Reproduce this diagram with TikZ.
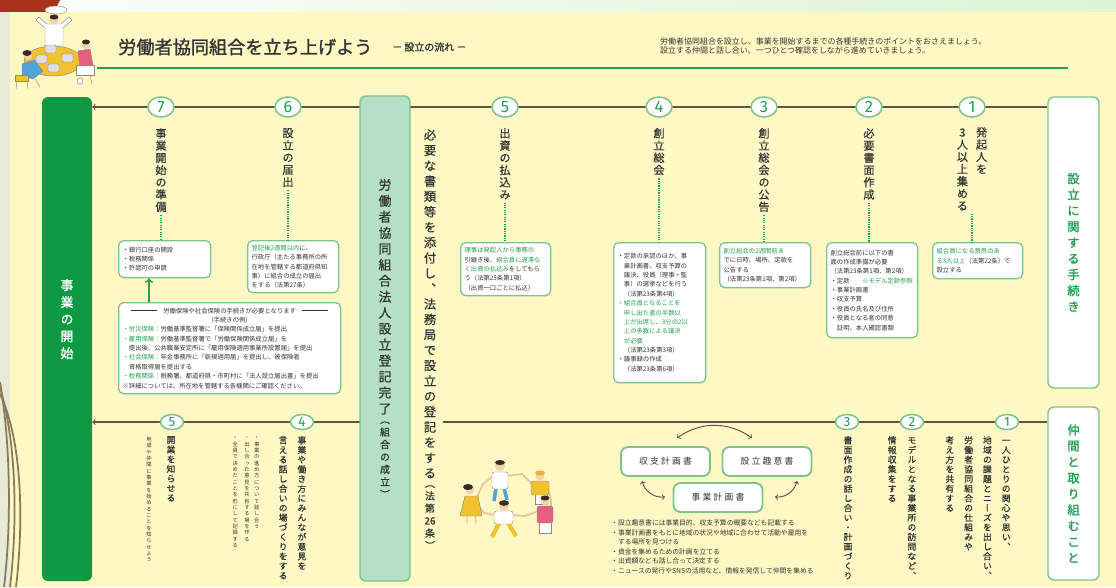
\documentclass[tikz,border=0pt]{standalone}
\usepackage{fontspec}
\setmainfont{Noto Sans CJK JP}
\newfontfamily\tatefont{Noto Sans CJK JP}[RawFeature=+vert]
\newfontfamily\tatemid{Noto Sans CJK JP}[RawFeature=+vert,FakeBold=0.7]
\newfontfamily\tatebold{Noto Sans CJK JP}[RawFeature=+vert,FakeBold=1.5]
\newfontfamily\titlefont{Noto Sans CJK JP}[FakeBold=1.5]
\newfontfamily\planfont{Noto Sans CJK JP}[LetterSpace=25]
\newfontfamily\numfont{Fira Sans}
\usetikzlibrary{shapes.geometric}
\setlength\parindent{0pt}

\newlength\px
\setlength\px{0.3mm}

\definecolor{page}{HTML}{FFF8C4}
\definecolor{edge}{HTML}{E6EAD6}
\definecolor{brick}{HTML}{A8321C}
\definecolor{leaf}{HTML}{0F9945}
\definecolor{mint}{HTML}{B5DFC6}
\definecolor{rim}{HTML}{7CC48A}
\definecolor{sprout}{HTML}{23A052}
\definecolor{ink}{HTML}{353535}
\definecolor{wire}{HTML}{5C5446}
\definecolor{skin}{HTML}{F2D3B0}
\definecolor{hair}{HTML}{3A2A20}
\definecolor{sun}{HTML}{F2C12E}
\definecolor{sky}{HTML}{4FA3D9}
\definecolor{rose}{HTML}{E5607F}
\definecolor{outline}{HTML}{8A8A8A}
\definecolor{arcline}{HTML}{8A7A5A}

\makeatletter
% a column of upright characters, read top to bottom
\newcommand\tate[2][1.2]{\vtop{\baselineskip=#1em\lineskiplimit=-\maxdimen\lineskip=0pt\relax
  \@tfor\tate@c:=#2\do{\hbox to 1em{\hss\tate@c\hss}}}}
% a column whose bracketed tail is set smaller
\newcommand\tatetail[3]{\vtop{\offinterlineskip
  \hbox to 1em{\hss\tate[#1]{#2}\hss}\kern6pt
  \hbox to 1em{\hss\fontsize{8.5}{8.5}\selectfont\tate[1.25]{#3}\hss}}}
\makeatother

\tikzset{
  wire/.style={draw=wire, line width=0.9pt},
  num/.style={ellipse, draw=rim, line width=1.3pt, fill=white, inner sep=0pt,
    minimum width=26\px, minimum height=20\px, text=sprout,
    font=\numfont\fontsize{14}{14}\selectfont},
  numlow/.style={num, minimum width=23\px, minimum height=15\px,
    font=\numfont\fontsize{11.5}{11.5}\selectfont},
  steptitle/.style={anchor=north, inner sep=0pt, text=ink,
    font=\tatemid\fontsize{9.5}{9.5}\selectfont},
  lowtitle/.style={anchor=north, inner sep=0pt, text=ink,
    font=\tatemid\fontsize{7.5}{7.5}\selectfont},
  lownote/.style={anchor=north, inner sep=0pt, text=ink,
    font=\tatefont\fontsize{4.5}{4.5}\selectfont},
  memo/.style={draw=rim, line width=1.1pt, fill=white, rounded corners=5\px,
    anchor=north west, inner sep=4\px, align=left, text=ink,
    font=\fontsize{5.4}{8}\selectfont},
  guide/.style={draw=sprout, densely dotted, line width=1pt},
  sidebox/.style={draw=rim, line width=1.2pt, fill=white, rounded corners=6\px,
    minimum width=51\px, inner sep=0pt, text=sprout,
    font=\tatebold\fontsize{10.5}{10.5}\selectfont},
  plan/.style={draw=rim, line width=1.6pt, fill=white, rounded corners=7\px,
    minimum width=89\px, minimum height=29\px, text=ink,
    font=\planfont\fontsize{7.5}{7.5}\selectfont},
  roundtrip/.style={draw=wire, line width=0.8pt, <->},
  kid/.style={draw=outline, line width=0.4pt},
  limb/.style={draw=skin!80!brown, line width=1.4pt, line cap=round}
}

\begin{document}
\begin{tikzpicture}[x=0.3mm, y=-0.3mm]
\useasboundingbox (0,0) rectangle (1116,587);
%page
\fill[edge] (0,0) rectangle (1116,587);
\shade[left color=white!90!edge, right color=edge!85!green!60!white] (0,0) rectangle (1116,12);
\fill[brick] (0,0) -- (60,0) -- (54,12) -- (0,12) -- cycle;
\fill[page] (10,12) rectangle (1116,587);
\foreach \d in {0,6,12}
  \draw[arcline, line width=1.5pt] (0,382+\d) .. controls (10+\d,440) and (12+\d,520) .. (4+\d,587);

%heading
\draw[sprout, line width=1.3pt] (97,68) -- (1068,68);
\node[anchor=west, inner sep=0pt, text=ink, font=\titlefont\fontsize{15.5}{15.5}\selectfont]
  (title) at (118,47) {労働者協同組合を立ち上げよう};
\node[anchor=west, inner sep=0pt, text=ink, font=\titlefont\fontsize{8.5}{8.5}\selectfont]
  (subtitle) at (392,47) {－\ 設立の流れ\ －};
\node[anchor=north west, inner sep=0pt, align=left, text=ink, font=\fontsize{6.8}{8.3}\selectfont]
  (lead) at (660,37) {労働者協同組合を設立し、事業を開始するまでの各種手続きのポイントをおさえましょう。\\
  設立する仲間と話し合い、一つひとつ確認をしながら進めていきましょう。};

%people at the table
\draw[kid, fill=white] (56,10) ellipse ({11\px} and {4\px});
\draw[kid] (55,14) -- (54,16);
\draw[kid, fill=white] (45,28) -- (36,20) -- (39,17) -- (47,24) -- (61,24) -- (69,17) -- (72,20) -- (63,28) -- (63,46) -- (45,46) -- cycle;
\fill[skin] (54,20) circle (4.5\px);
\fill[hair] (54,17) ellipse ({4.5\px} and {2.5\px});
\draw[kid, fill=sun] (53,61) ellipse ({29\px} and {15\px});
\foreach \lx/\ly in {45/45,36/55,62/54,48/64}
  \draw[kid, fill=gray!25, rounded corners=1pt] (\lx,\ly) rectangle ++(11,8);
\draw[kid, fill=sky] (22,64) -- (34,60) -- (43,71) -- (33,79) -- (22,76) -- cycle;
\fill[skin] (28,56) circle (4\px);
\fill[hair] (27,53) ellipse ({4.5\px} and {3\px});
\draw[kid, fill=sun] (15,75) rectangle (28,81);
\draw[kid] (17,81) -- (16,89) (27,81) -- (28,89) (35,79) -- (40,87);
\draw[kid, fill=rose] (78,51) -- (90,49) -- (93,65) -- (80,67) -- cycle;
\fill[skin] (86,45) circle (4\px);
\fill[hair] (86,42) ellipse ({4\px} and {2.5\px});
\draw[kid, fill=white] (76,65) rectangle (94,75);
\draw[kid, fill=white] (80,81) circle (3\px);
\draw[kid] (80,75) -- (80,78) (90,75) -- (92,85);

%side bars
\node[fill=leaf, rounded corners=6\px, minimum width=50\px, minimum height=484\px, inner sep=0pt]
  (kaishi) at (67,339) {};
\node[anchor=north, inner sep=0pt, text=white, font=\tatebold\fontsize{11}{11}\selectfont]
  (kaishilab) at (67,279) {\tate[1.32]{事業の開始}};
\node[sidebox, minimum height=291\px] (tetsuzuki) at (1073.5,242.5) {\tate[1.3]{設立に関する手続き}};
\node[sidebox, minimum height=173\px] (nakama) at (1073.5,493.5) {\tate[1.3]{仲間と取り組むこと}};

%flow lines
\coordinate (row1) at (0,107);
\coordinate (row2) at (0,422);
\coordinate (gap) at (443,422);
\coordinate (under) at (385,422);
\draw[wire, ->] (tetsuzuki.west |- row1) -- (kaishi.east |- row1);
\draw[wire] (nakama.west |- row2) -- (gap);
\draw[wire, ->] (under) -- (kaishi.east |- row2);

%registration
\node[fill=mint, draw=rim, line width=1.2pt, rounded corners=6\px, minimum width=50\px,
  minimum height=485\px, inner sep=0pt, text=ink, font=\tatemid\fontsize{11}{11}\selectfont]
  (seiritsu) at (385,338.5) {\tatetail{1.24}{労働者協同組合法人設立登記完了}{（組合の成立）}};
\node[anchor=north, inner sep=0pt, text=ink, font=\tatemid\fontsize{10.5}{10.5}\selectfont]
  (touki) at (430,129) {\tatetail{1.25}{必要な書類等を添付し、法務局で設立の登記をする}{（法第{26}条）}};

%steps
\foreach \n/\x in {1/972,2/869,3/764,4/659,5/505,6/288,7/161}
  \node[num] (t\n) at (\x,107) {\n};
\foreach \n/\x in {1/1007,2/912,3/847,4/302,5/172}
  \node[numlow] (u\n) at (\x,422) {\n};

\node[steptitle] (s1) at (972,127) {\tate[1.1]{3人以上集める}\hskip8\px\tate[1.1]{発起人を}};
\node[steptitle] (s2) at (869,128) {\tate[1.1]{必要書面作成}};
\node[steptitle] (s3) at (764,128) {\tate[1.1]{創立総会の公告}};
\node[steptitle] (s4) at (659,128) {\tate[1.1]{創立総会}};
\node[steptitle] (s5) at (505,128) {\tate[1.1]{出資の払込み}};
\node[steptitle] (s6) at (288,128) {\tate[1.1]{設立の届出}};
\node[steptitle] (s7) at (161,128) {\tate[1.1]{事業開始の準備}};

%notes under the steps
\node[memo, text width=82\px, minimum height=36\px] (b1) at (932,242)
  {{\color{sprout}組合員になる意思のあ}\\{\color{sprout}る3人以上}（法第22条）で\\設立する};
\node[memo, text width=83\px, minimum height=95\px] (b2) at (826,242)
  {創立総会前に以下の書\\面の作成準備が必要\\（法第23条第1項、第2項）\\・定款　　{\color{sprout}※モデル定款参照}\\・事業計画書\\・収支予算\\・役員の氏名及び住所\\・役員となる者の同意\\　証明、本人確認書類};
\node[memo, text width=83\px, minimum height=45\px] (b3) at (719,242)
  {{\color{sprout}創立総会の2週間前ま}\\でに日時、場所、定款を\\公告する\\（法第23条第1項、第2項）};
\node[memo, text width=84\px, minimum height=140\px] (b4) at (613,242)
  {・定款の承認のほか、事\\　業計画書、収支予算の\\　議決、役員（理事・監\\　事）の選挙などを行う\\　（法第23条第4項）\\
  {\color{sprout}・組合員となることを}\\{\color{sprout}　申し出た者の半数以}\\{\color{sprout}　上が出席し、3分の2以}\\{\color{sprout}　上の多数による議決}\\{\color{sprout}　が必要}\\
  　（法第23条第3項）\\・議事録の作成\\　（法第23条第6項）};
\node[memo, text width=82\px, minimum height=53\px] (b5) at (460,242)
  {{\color{sprout}理事は発起人から事務の}\\引継ぎ後、{\color{sprout}組合員に遅滞な}\\{\color{sprout}く出資の払込み}をしてもら\\う（法第25条第1項）\\（出資一口ごとに払込）};
\node[memo, text width=83\px, minimum height=52\px] (b6) at (247,240)
  {{\color{sprout}登記後2週間以内}に、\\行政庁（主たる事務所の所\\在地を管轄する都道府県知\\事）に組合の成立の届出\\をする（法第27条）};
\node[memo, text width=84\px, minimum height=37\px] (b7) at (118,240)
  {・銀行口座の開設\\・税務関係\\・許認可の申請};
\foreach \n in {1,...,7}
  \draw[guide] ([yshift=-3\px]s\n.south) -- (b\n.north -| s\n.south);

\node[memo, text width=214\px, minimum height=91\px] (rules) at (118,302)
  {\leavevmode\hbox to\hsize{\hfil\rule[0.35em]{26\px}{0.5pt}\quad 労働保険や社会保険の手続きが必要となります\quad\rule[0.35em]{26\px}{0.5pt}\hfil}\\
  \leavevmode\hbox to\hsize{\hfil（手続きの例）\hfil}\\
  {\color{sprout}・労災保険}：労働基準監督署に「保険関係成立届」を提出\\
  {\color{sprout}・雇用保険}：労働基準監督署で「労働保険関係成立届」を\\
  　提出後、公共職業安定所に「雇用保険適用事業所設置届」を提出\\
  {\color{sprout}・社会保険}：年金事務所に「新規適用届」を提出し、被保険者\\
  　資格取得届を提出する\\
  {\color{sprout}・税務関係}：税務署、都道府県・市町村に「法人設立届出書」を提出\\
  ※詳細については、所在地を管轄する各機関にご確認ください。};
\coordinate (lift) at (149,0);
\draw[sprout, line width=1.5pt, ->] (rules.north -| lift) -- (b7.south -| lift);

%working together
\node[lowtitle] (w1) at (978,436) {\tate[1.1]{考え方を共有する}\hskip10\px\tate[1.1]{労働者協同組合の仕組みや}\hskip10\px\tate[1.1]{地域の課題とニーズを出し合い、}\hskip10\px\tate[1.1]{一人ひとりの関心や思い、}};
\node[lowtitle] (w2) at (902,436) {\tate[1.1]{情報収集をする}\hskip11\px\tate[1.1]{モデルとなる事業所の訪問など、}};
\node[lowtitle] (w3) at (848,436) {\tate[1.1]{書面作成の話し合い・計画づくり}};
\node[lowtitle] (w4) at (292.5,436) {\tate[1.1]{言える話し合いの場づくりをする}\hskip10\px\tate[1.1]{事業や働き方にみんなが意見を}};
\node[lownote] (w4notes) at (246,437) {\tate[1.2]{・全員で決めたことを形にして記録する}\hskip6.5\px\tate[1.2]{・出し合った意見を共有する場を作る}\hskip4.5\px\tate[1.2]{・事業の進め方について話し合う}};
\node[lowtitle] (w5) at (171,436) {\tate[1.1]{開業を知らせる}};
\node[lownote] (w5notes) at (149,437) {\tate[1.2]{地域や仲間に事業を始めることを知らせよう}};

%papers to draw up
\node[plan] (shushi) at (665.5,461.5) {収支計画書};
\node[plan] (shui) at (767,461.5) {設立趣意書};
\node[plan] (jigyo) at (718,497.5) {事業計画書};
\coordinate (c1) at (677,438);
\coordinate (c2) at (752,438);
\coordinate (c3) at (642,481);
\coordinate (c4) at (665,497);
\coordinate (c5) at (775,497);
\coordinate (c6) at (797,481);
\draw[roundtrip] (c1) to[bend left=35] (c2);
\draw[roundtrip] (c3) to[bend right=40] (c4);
\draw[roundtrip] (c5) to[bend right=40] (c6);
\node[anchor=north west, inner sep=0pt, align=left, text=ink, font=\fontsize{5.8}{8.1}\selectfont]
  (plannotes) at (611,520) {・設立趣意書には事業目的、収支予算の概要なども記載する\\
  ・事業計画書をもとに地域の状況や地域に合わせて活動や雇用を\\
  \phantom{・}する場所を見つける\\
  ・資金を集めるための計画を立てる\\
  ・出資額なども話し合って決定する\\
  ・ニュースの発行やSNSの活用など、情報を発信して仲間を集める};

%children holding hands
\draw[limb] (493,476) -- (483,484) (507,476) -- (522,474);
\draw[limb] (532,484) -- (522,474) (548,487) -- (551,500);
\draw[limb] (538,511) -- (525,516) (551,509) -- (551,500);
\draw[limb] (495,515) -- (484,513) (512,515) -- (525,516);
\draw[limb] (476,499) -- (483,484) (478,505) -- (484,513);
% top
\draw[sky, line width=3pt] (496,488) -- (494,501) (504,488) -- (507,500);
\draw[kid, fill=white, rounded corners=2pt] (492,472) rectangle (508,489);
\fill[skin] (500,466) circle (5\px);
\fill[hair] (500,462.5) ellipse ({5\px} and {2.5\px});
% right
\draw[kid, fill=white] (535,494) rectangle (547,504);
\draw[kid, fill=sun, rounded corners=2pt] (531,481) rectangle (549,495);
\fill[skin] (540,476) circle (4.5\px);
\fill[sun!80!brown] (540,473) ellipse ({5\px} and {2.5\px});
\draw[kid, fill=white] (539,522) rectangle (551,533);
\draw[kid, fill=rose, rounded corners=2pt] (537,506) rectangle (553,523);
\fill[skin] (545,501) circle (4.5\px);
\fill[hair] (545,498) ellipse ({4.5\px} and {2.5\px});
% bottom
\draw[sun, line width=3.5pt] (499,523) -- (492,537) (508,523) -- (516,536);
\draw[kid, fill=white, rounded corners=2pt] (494,511) rectangle (513,524);
\fill[skin] (504,506) circle (5\px);
\fill[hair] (504,503) ellipse ({5\px} and {2.8\px});
% left
\draw[skin!80!brown, line width=1.2pt] (467,516) -- (467,523) (475,516) -- (476,523);
\draw[kid, fill=sun] (465,496) -- (478,496) -- (482,516) -- (460,516) -- cycle;
\fill[skin] (470,490) circle (4.5\px);
\fill[hair] (468,487) ellipse ({5\px} and {3\px});
\end{tikzpicture}
\end{document}
